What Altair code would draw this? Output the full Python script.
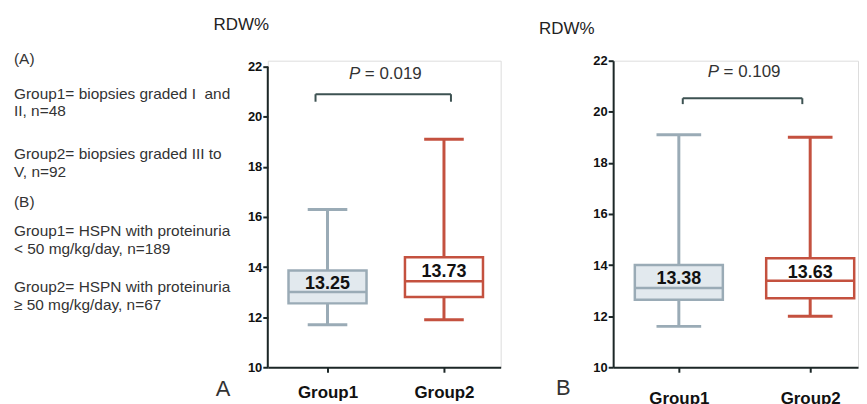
import altair as alt
import pandas as pd

# ---------------- data ----------------
groups = ["Group1", "Group2"]
group_pos = [1, 2]

# Panel A (biopsy grade)
a_low = [11.7, 11.9]
a_q1 = [12.55, 12.8]
a_median = [13.0, 13.43]
a_q3 = [13.86, 14.39]
a_high = [16.3, 19.1]
a_means = ["13.25", "13.73"]
a_pvalue = "= 0.019"

# Panel B (proteinuria)
b_low = [11.6, 12.0]
b_q1 = [12.64, 12.7]
b_median = [13.1, 13.39]
b_q3 = [14.0, 14.27]
b_high = [19.1, 19.0]
b_means = ["13.38", "13.63"]
b_pvalue = "= 0.109"

y_ticks = [10, 12, 14, 16, 18, 20, 22]

desc_lines = [
    "(A)",
    "Group1= biopsies graded I\u00a0\u00a0and",
    "II, n=48",
    "Group2= biopsies graded III to",
    "V, n=92",
    "(B)",
    "Group1= HSPN with proteinuria",
    "< 50 mg/kg/day, n=189",
    "Group2= HSPN with proteinuria",
    "\u2265 50 mg/kg/day, n=67",
]
desc_y = [-2, 33, 51, 94, 112, 142, 171, 189, 227, 245]

# ---------------- style ----------------
GRAY = "#9aabb6"
RED = "#c4513f"
LIGHT = "#e2e9ee"
AXIS = "#1c2727"
TEXT = "#333333"
FONT = "Liberation Sans"

one = pd.DataFrame({"k": [0]})


def make_panel(low, q1, med, q3, high, means, pval, cfg):
    df = pd.DataFrame({
        "group": groups, "pos": group_pos, "low": low, "q1": q1, "med": med,
        "q3": q3, "high": high, "mean": [float(m) for m in means], "label": means,
    })
    xs = alt.Scale(domain=cfg["xdomain"], nice=False, zero=False)
    xaxis = alt.Axis(values=group_pos, title=None, grid=False,
                     labelExpr=f"datum.value == 1 ? '{groups[0]}' : '{groups[1]}'",
                     labelFontSize=17, labelFontWeight="bold", labelColor="#111",
                     labelPadding=cfg["xlabpad"], tickSize=5, tickWidth=2,
                     tickColor=AXIS, domainColor=AXIS, domainWidth=2, labelFont=FONT)
    ys = alt.Scale(domain=cfg["ydomain"], nice=False, zero=False)
    yaxis = alt.Axis(values=y_ticks, grid=False, title="RDW%", titleAngle=0,
                     titleX=cfg["titleX"], titleY=cfg["titleY"], titleAlign="left",
                     titleBaseline="middle", titleFontSize=17, titleFontWeight="normal",
                     titleColor="#222", titleFont=FONT,
                     labelFontSize=13, labelFontWeight="bold", labelColor="#111",
                     labelPadding=1, tickSize=5, tickWidth=2, tickColor=AXIS,
                     domain=cfg["ydomainline"], domainColor=AXIS, domainWidth=2,
                     labelFont=FONT)

    def X(f):
        return alt.X(f, type="quantitative", scale=xs, axis=xaxis)

    def Y(f):
        return alt.Y(f, type="quantitative", scale=ys, axis=yaxis)

    stroke = alt.Stroke("group:N", scale=alt.Scale(domain=groups, range=[GRAY, RED]), legend=None)
    fill = alt.Fill("group:N", scale=alt.Scale(domain=groups, range=[LIGHT, "white"]), legend=None)

    base = alt.Chart(df).transform_calculate(
        xl="datum.pos - 0.335", xr="datum.pos + 0.335",
        cl="datum.pos - 0.17", cr="datum.pos + 0.17")

    whisker = base.mark_rule(strokeWidth=3).encode(x=X("pos"), y=Y("low"), y2="high", stroke=stroke)
    cap_lo = base.mark_rule(strokeWidth=3).encode(x=X("cl"), x2="cr", y=Y("low"), stroke=stroke)
    cap_hi = base.mark_rule(strokeWidth=3).encode(x=X("cl"), x2="cr", y=Y("high"), stroke=stroke)
    box = base.mark_rect(strokeWidth=2.5).encode(x=X("xl"), x2="xr", y=Y("q1"), y2="q3",
                                                  stroke=stroke, fill=fill)
    median = base.mark_rule(strokeWidth=2.5).encode(x=X("xl"), x2="xr", y=Y("med"), stroke=stroke)
    mean_txt = base.mark_text(fontSize=18, fontWeight="bold", color="#111", dy=-2,
                              baseline="middle", font=FONT).encode(
        x=X("pos"), y=Y("mean"), text="label:N")

    bx1, bx2, by, byd = cfg["bracket"]
    br = pd.DataFrame({"x": [bx1, bx1, bx2], "x2": [bx2, bx1, bx2],
                       "y": [by, by, by], "y2": [by, byd, byd]})
    bracket = alt.Chart(br).mark_rule(strokeWidth=2, color="#3d5252").encode(
        x=X("x"), x2="x2", y=Y("y"), y2="y2")

    px, py = cfg["ptext"]
    p_it = alt.Chart(one).mark_text(text="P", fontStyle="italic", fontSize=17, color=TEXT,
                                    align="right", baseline="middle", dx=-25.5, font=FONT).encode(
        x=alt.X(datum=px, type="quantitative", scale=xs, axis=xaxis),
        y=alt.Y(datum=py, type="quantitative", scale=ys, axis=yaxis))
    p_val = alt.Chart(one).mark_text(text=pval, fontSize=17, color=TEXT,
                                     align="left", baseline="middle", dx=-21, font=FONT).encode(
        x=alt.X(datum=px, type="quantitative", scale=xs, axis=xaxis),
        y=alt.Y(datum=py, type="quantitative", scale=ys, axis=yaxis))

    lx, ly = cfg["letter_pos"]
    letter = alt.Chart(one).mark_text(text=cfg["letter"], fontSize=22, color=TEXT,
                                      align="center", baseline="middle", font=FONT).encode(
        x=alt.value(lx), y=alt.value(ly))

    layers = [whisker, cap_lo, cap_hi, box, median, mean_txt, bracket, p_it, p_val, letter]
    if not cfg["ydomainline"]:
        # y-axis line drawn only from 10 to 22
        axis_line = alt.Chart(one).mark_rule(strokeWidth=2, color=AXIS).encode(
            x=alt.value(0),
            y=alt.Y(datum=y_ticks[0], type="quantitative", scale=ys, axis=yaxis),
            y2=alt.Y2(datum=y_ticks[-1]))
        layers.append(axis_line)
    layers += cfg.get("extra", [])
    return alt.layer(*layers).properties(width=cfg["width"], height=cfg["height"])


# description text block (left of panel A)
desc_layers = [
    alt.Chart(one).mark_text(text=t, fontSize=15.5, color=TEXT, align="left",
                             baseline="middle", font=FONT).encode(
        x=alt.value(-255), y=alt.value(yy))
    for t, yy in zip(desc_lines, desc_y)
]

cfgA = dict(width=234, height=308, xdomain=[0.487, 2.487], ydomain=[10, 22.238],
            ydomainline=False, xlabpad=12,
            titleX=-55, titleY=-36, bracket=(0.897, 2.06, 20.9, 20.6),
            ptext=(1.5, 21.7), letter="A", letter_pos=(-45, 330), extra=desc_layers)
cfgB = dict(width=246, height=308, xdomain=[0.5, 2.364], ydomain=[10, 22],
            ydomainline=True, xlabpad=18,
            titleX=-75, titleY=-32, bracket=(1.03, 1.94, 20.53, 20.3),
            ptext=(1.5, 21.55), letter="B", letter_pos=(-50, 329))

panelA = make_panel(a_low, a_q1, a_median, a_q3, a_high, a_means, a_pvalue, cfgA)
panelB = make_panel(b_low, b_q1, b_median, b_q3, b_high, b_means, b_pvalue, cfgB)

chart = alt.hconcat(panelA, panelB, spacing=36).properties(
    padding={"left": 5, "top": 6, "right": 0, "bottom": 0},
    background="white",
).configure_view(stroke=None).configure(font=FONT)

chart.save("out.html", embed_options={"renderer": "svg", "actions": False})
